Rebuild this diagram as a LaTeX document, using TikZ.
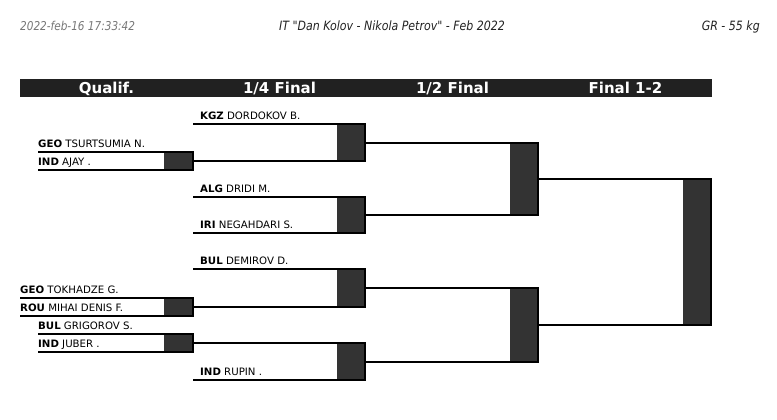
\documentclass[tikz,border=0pt]{standalone}
\usepackage{fontspec}
\setmainfont{DejaVu Sans}
\newfontfamily\condfont[FakeStretch=0.86]{DejaVu Sans}
\usetikzlibrary{calc}
\definecolor{boxgray}{HTML}{333333}
\definecolor{barcol}{HTML}{212121}
\definecolor{datecol}{HTML}{777777}
\definecolor{titlecol}{HTML}{222222}
\tikzset{
  rule/.style={line width=2pt, black, line join=miter},
  boxfill/.style={fill=boxgray},
  athlete/.style={anchor=base west, inner sep=0pt, font=\fontsize{10.2}{11}\selectfont},
  colhead/.style={anchor=base, inner sep=0pt, text=white, font=\fontsize{15}{16}\selectfont\bfseries},
  toptext/.style={anchor=base, inner sep=0pt, font=\fontsize{12.8}{14}\selectfont\condfont\itshape},
}
% #1 name, #2 x start, #3 box left, #4 x end, #5 y top, #6 y bottom
\newcommand\drawbracket[6]{%
  \coordinate (#1-tl) at (#2,#5);
  \coordinate (#1-tr) at (#4,#5);
  \coordinate (#1-bl) at (#2,#6);
  \coordinate (#1-br) at (#4,#6);
  \coordinate (#1-bx) at (#3,#5);
  \coordinate (#1-out) at (#4,{(#5+#6)/2});
  \fill[boxfill] (#1-bx) rectangle (#1-br);
  \draw[rule] (#1-tl) -- (#1-tr) -- (#1-br) -- (#1-bl);
}
\begin{document}
\begin{tikzpicture}[x=1pt,y=-1pt]
\useasboundingbox (0,0) rectangle (777,420);
% top texts
\node[toptext, anchor=base west, text=datecol, font=\fontsize{12.2}{14}\selectfont\condfont\itshape] (date) at (20,31) {2022-feb-16 17:33:42};
\node[toptext, text=titlecol] (title) at (392,31) {IT "Dan Kolov - Nikola Petrov" - Feb 2022};
\node[toptext, anchor=base east, text=titlecol] (cat) at (760,31) {GR - 55 kg};
% header bar
\fill[barcol] (20,79) rectangle (712,97);
\node[colhead] (h1) at (106.5,93) {Qualif.};
\node[colhead] (h2) at (279.5,93) {1/4 Final};
\node[colhead] (h3) at (452.5,93) {1/2 Final};
\node[colhead] (h4) at (625.5,93) {Final 1-2};
% qualification
\drawbracket{q1}{38}{164}{193}{152}{170}
\drawbracket{q3}{20}{164}{193}{298}{316}
\drawbracket{q4}{38}{164}{193}{334}{352}
% quarter finals
\drawbracket{qf1}{193}{337}{365}{124}{161}
\drawbracket{qf2}{193}{337}{365}{197}{233}
\drawbracket{qf3}{193}{337}{365}{269}{307}
\drawbracket{qf4}{193}{337}{365}{343}{380}
% semi finals
\drawbracket{sf1}{365}{510}{538}{142.5}{215}
\drawbracket{sf2}{365}{510}{538}{288}{361.5}
% final
\drawbracket{fin}{538}{683}{711}{178.75}{324.75}
% names
\node[athlete] (a1) at (38,147.5) {\textbf{GEO} TSURTSUMIA N.};
\node[athlete] (a2) at (38,165.5) {\textbf{IND} AJAY .};
\node[athlete] (a3) at (200,119.5) {\textbf{KGZ} DORDOKOV B.};
\node[athlete] (a4) at (200,192.5) {\textbf{ALG} DRIDI M.};
\node[athlete] (a5) at (200,228.5) {\textbf{IRI} NEGAHDARI S.};
\node[athlete] (a6) at (200,264.5) {\textbf{BUL} DEMIROV D.};
\node[athlete] (a7) at (20,293.5) {\textbf{GEO} TOKHADZE G.};
\node[athlete] (a8) at (20,311.5) {\textbf{ROU} MIHAI DENIS F.};
\node[athlete] (a9) at (38,329.5) {\textbf{BUL} GRIGOROV S.};
\node[athlete] (a10) at (38,347.5) {\textbf{IND} JUBER .};
\node[athlete] (a11) at (200,375.5) {\textbf{IND} RUPIN .};
\end{tikzpicture}
\end{document}
